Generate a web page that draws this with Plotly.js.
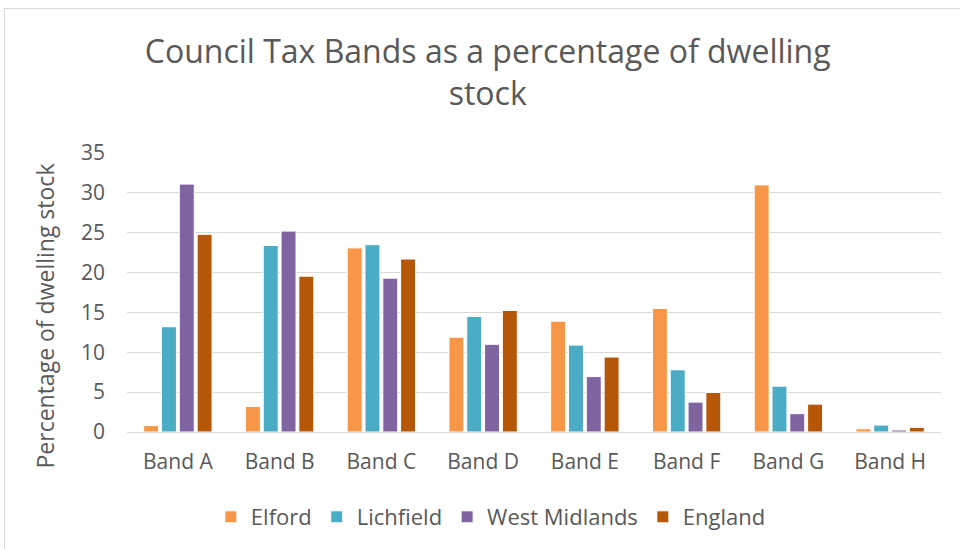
<!DOCTYPE html>
<html>
<head>
<meta charset="utf-8">
<script src="https://cdn.plot.ly/plotly-3.0.1.min.js"></script>
<style>
  html, body { margin: 0; padding: 0; background: #ffffff; }
  #frame { position: absolute; left: 4px; top: 8px; width: 980px; height: 560px;
           border-left: 1px solid #d9d9d9; border-top: 1px solid #d9d9d9; }
  #chart { position: absolute; left: 0; top: 0; width: 960px; height: 549px; }
</style>
</head>
<body>
<div id="frame"></div>
<div id="chart"></div>
<script>
const categories = ["Band A", "Band B", "Band C", "Band D", "Band E", "Band F", "Band G", "Band H"];
const elford = [0.8, 3.2, 23.1, 11.9, 13.9, 15.5, 31.0, 0.4];
const lichfield = [13.2, 23.4, 23.5, 14.5, 10.9, 7.8, 5.75, 0.87];
const westMidlands = [31.1, 25.2, 19.3, 11.0, 6.95, 3.75, 2.3, 0.25];
const england = [24.8, 19.55, 21.7, 15.25, 9.4, 4.95, 3.5, 0.58];
const seriesNames = ["Elford", "Lichfield", "West Midlands", "England"];
const seriesColors = ["#F79646", "#4BACC6", "#8064A2", "#B65708"];
const seriesValues = [elford, lichfield, westMidlands, england];
const titleText = "Council Tax Bands as a percentage of dwelling<br>stock";
const yTitleText = "Percentage of dwelling stock";

const FONT = "Open Sans, Noto Sans, sans-serif";
const GREY = "#595959";
const traces = seriesValues.map((vals, i) => ({
  type: "bar",
  name: seriesNames[i],
  x: categories,
  y: vals,
  marker: { color: seriesColors[i], line: { color: "#ffffff", width: 1 } },
  hoverinfo: "x+y+name"
}));

const layout = {
  width: 960,
  height: 549,
  paper_bgcolor: "rgba(0,0,0,0)",
  plot_bgcolor: "#ffffff",
  margin: { l: 127, r: 19, t: 153, b: 116 },
  barmode: "group",
  bargap: 0.3,
  bargroupgap: 0.16,
  font: { family: FONT, color: GREY },
  title: {
    text: titleText,
    font: { family: FONT, size: 32, color: GREY },
    x: 0.508, xanchor: "center", xref: "container",
    y: 0.885, yanchor: "middle", yref: "container"
  },
  xaxis: {
    type: "category",
    tickfont: { family: FONT, size: 21, color: GREY },
    showgrid: false,
    showline: true, linecolor: "#d9d9d9", linewidth: 1,
    ticks: "", ticklabelstandoff: 11,
    zeroline: false
  },
  yaxis: {
    range: [0, 35],
    dtick: 5,
    tickfont: { family: FONT, size: 21, color: GREY },
    showgrid: true, gridcolor: "#d9d9d9", gridwidth: 1,
    zeroline: true, zerolinecolor: "#d9d9d9", zerolinewidth: 1,
    showline: false, ticks: "", ticklabelstandoff: 21
  },
  annotations: [{
    text: yTitleText,
    textangle: -90,
    xref: "paper", yref: "paper",
    x: -0.1007, y: 0.414,
    xanchor: "center", yanchor: "middle",
    showarrow: false,
    font: { family: FONT, size: 23, color: GREY }
  }],
  legend: {
    orientation: "h",
    x: 0.447, xanchor: "center",
    y: -0.3, yanchor: "middle",
    font: { family: FONT, size: 22, color: GREY },
    itemwidth: 30,
    traceorder: "normal"
  },
  showlegend: true
};

Plotly.newPlot("chart", traces, layout, { displayModeBar: false });
</script>
</body>
</html>
